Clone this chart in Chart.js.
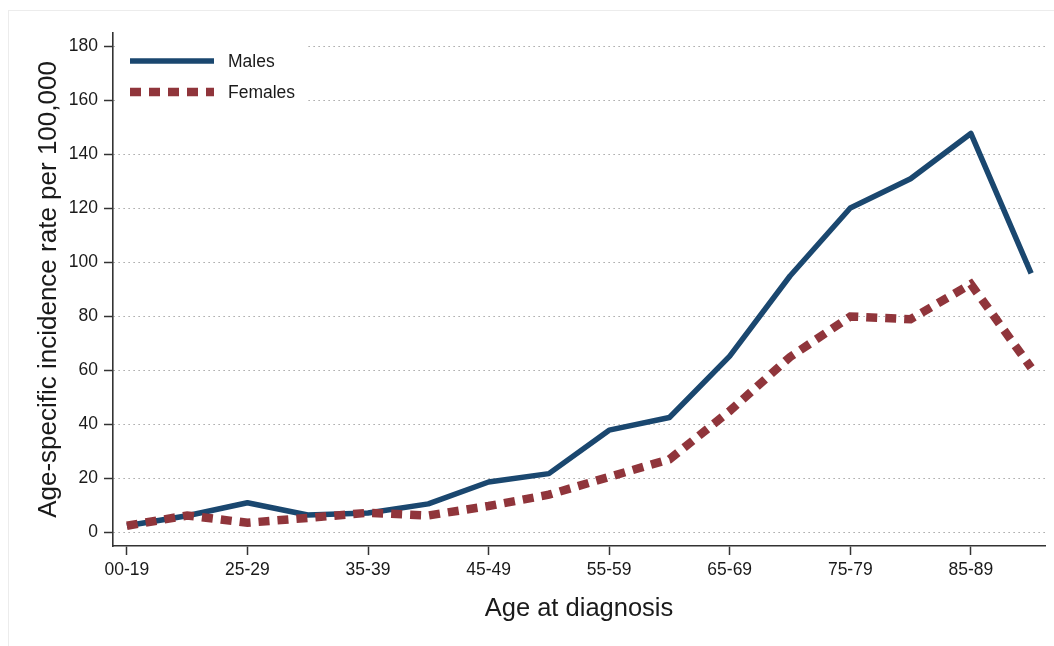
<!DOCTYPE html>
<html>
<head>
<meta charset="utf-8">
<title>Age-specific incidence</title>
<script src="https://cdn.jsdelivr.net/npm/chart.js@4.4.0/dist/chart.umd.min.js"></script>
<style>
  html, body { margin: 0; padding: 0; background: #fff; }
  #wrap { width: 1054px; height: 646px; position: relative; }
</style>
</head>
<body>
<div id="wrap"><canvas id="incidence"></canvas></div>
<script>
// age groups (x axis) and the labels that get a tick
const ageGroups = ['00-19', '20-24', '25-29', '30-34', '35-39', '40-44', '45-49', '50-54',
  '55-59', '60-64', '65-69', '70-74', '75-79', '80-84', '85-89', '90+']
const xTickLabels = ['00-19', '25-29', '35-39', '45-49', '55-59', '65-69', '75-79', '85-89']
const yTicks = [0, 20, 40, 60, 80, 100, 120, 140, 160, 180]

// rates per 100,000
const males = [2.5, 6.2, 11, 6.5, 7.2, 10.6, 18.7, 21.8, 37.9, 42.6, 65.3, 95, 120.2, 131, 147.8, 96]
const females = [2.5, 6.3, 3.6, 5.4, 7.3, 6.3, 9.8, 14, 20.6, 27.1, 45, 65, 80, 79, 92, 61]

const navy = '#1a476f'
const maroon = '#90353b'
const fontFamily = "'Liberation Sans', Arial, Helvetica, sans-serif"

Chart.defaults.font.family = fontFamily
Chart.defaults.color = '#1a1a1a'

function toPoints(values) {
  return values.map((v, i) => ({ x: i, y: v }))
}

// legend drawn inside the plot, over a white patch (hides the grid lines)
const insideLegend = {
  id: 'insideLegend',
  beforeDatasetsDraw(chart) {
    let ctx = chart.ctx
    let area = chart.chartArea
    ctx.save()
    ctx.fillStyle = '#ffffff'
    ctx.fillRect(area.left + 2, area.top + 4, 192, 74)

    chart.data.datasets.forEach((ds, i) => {
      let y = area.top + 28 + i * 31
      let x0 = area.left + 17
      let x1 = area.left + 101
      ctx.beginPath()
      ctx.lineWidth = ds.borderWidth
      ctx.strokeStyle = ds.borderColor
      ctx.lineCap = 'butt'
      ctx.setLineDash(ds.borderDash || [])
      ctx.moveTo(x0, y)
      ctx.lineTo(x1, y)
      ctx.stroke()
      ctx.setLineDash([])

      ctx.fillStyle = '#1a1a1a'
      ctx.font = '17.5px ' + fontFamily
      ctx.textAlign = 'left'
      ctx.textBaseline = 'middle'
      ctx.fillText(ds.label, area.left + 115, y + 1)
    })
    ctx.restore()
  },
  afterDraw(chart) {
    // faint outer frame of the graph region
    let ctx = chart.ctx
    ctx.save()
    ctx.strokeStyle = '#ececec'
    ctx.lineWidth = 1
    ctx.strokeRect(8.5, 10.5, 1060, 650)
    ctx.restore()
  }
}

let ctx = document.getElementById('incidence').getContext('2d')

new Chart(ctx, {
  type: 'line',
  data: {
    datasets: [{
      label: 'Males',
      data: toPoints(males),
      borderColor: navy,
      backgroundColor: navy,
      borderWidth: 5.5,
      borderJoinStyle: 'round',
      pointRadius: 0,
      tension: 0,
      order: 1
    }, {
      label: 'Females',
      data: toPoints(females),
      borderColor: maroon,
      backgroundColor: maroon,
      borderWidth: 8.5,
      borderDash: [11, 8],
      borderCapStyle: 'butt',
      pointRadius: 0,
      tension: 0,
      order: 0
    }]
  },
  options: {
    responsive: true,
    maintainAspectRatio: false,
    animation: false,
    layout: {
      padding: { left: 33, top: 33, right: 9, bottom: 22 }
    },
    plugins: {
      legend: { display: false },
      tooltip: { enabled: false }
    },
    scales: {
      x: {
        type: 'linear',
        min: -0.23,
        max: 15.23,
        afterBuildTicks: (scale) => {
          scale.ticks = xTickLabels.map(lbl => ({ value: ageGroups.indexOf(lbl) }))
        },
        afterFit: (scale) => { scale.height = 78 },
        ticks: {
          autoSkip: false,
          maxRotation: 0,
          padding: 5,
          font: { size: 17.5 },
          callback: (value) => ageGroups[value]
        },
        grid: {
          drawOnChartArea: false,
          drawTicks: true,
          tickLength: 9,
          tickColor: '#333',
          tickWidth: 1.5
        },
        border: { display: true, color: '#333', width: 1.6 },
        title: {
          display: true,
          text: 'Age at diagnosis',
          font: { size: 25.5 },
          padding: 0
        }
      },
      y: {
        min: -5,
        max: 185,
        afterBuildTicks: (scale) => {
          scale.ticks = yTicks.map(v => ({ value: v }))
        },
        afterFit: (scale) => { scale.width = 80 },
        ticks: {
          padding: 6,
          font: { size: 17.5 }
        },
        grid: {
          color: '#7a7a7a',
          lineWidth: 1,
          tickLength: 9,
          tickColor: '#333',
          tickWidth: 1.5,
          tickBorderDash: []
        },
        border: { display: true, color: '#333', width: 1.6, dash: [1, 4], dashOffset: -5 },
        title: {
          display: true,
          text: 'Age-specific incidence rate per 100,000',
          font: { size: 26 },
          padding: 0
        }
      }
    }
  },
  plugins: [insideLegend]
})
</script>
</body>
</html>
